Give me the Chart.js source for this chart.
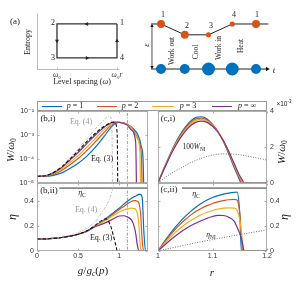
<!DOCTYPE html>
<html>
<head>
<meta charset="utf-8">
<script src="https://cdn.jsdelivr.net/npm/chart.js@4.4.0/dist/chart.umd.min.js"></script>
<style>
  body { margin: 0; background: #fff; }
  #fig { position: relative; width: 299px; height: 282px; overflow: hidden; }
  #fig canvas { position: absolute; left: 0; top: 0; }
  .t { position: absolute; transform: translate(-50%, -50%); white-space: nowrap; line-height: 1;
       font-family: "Liberation Serif", "DejaVu Serif", serif; color: #222; }
  .r { transform: translate(-50%, -50%) rotate(-90deg); }
  .t sub { font-size: 70%; vertical-align: -0.3em; line-height: 0; }
  .t sup { font-size: 70%; vertical-align: 0.5em; line-height: 0; }
  .g { color: #999; }
  #legend { position: absolute; left: 37px; top: 101px; width: 230px; height: 10px; border: 0.8px solid #999;
            box-sizing: border-box; background: #fff; }
  .sw { position: absolute; top: 5px; height: 0; border-top: 1.2px solid; }
</style>
</head>
<body>
<div id="fig">
  <canvas id="a1" width="299" height="282"></canvas>
  <canvas id="a2" width="299" height="282"></canvas>
  <canvas id="bi" width="299" height="282"></canvas>
  <canvas id="ci" width="299" height="282"></canvas>
  <canvas id="bii" width="299" height="282"></canvas>
  <canvas id="cii" width="299" height="282"></canvas>

  <!-- panel (a) text -->
  <div class="t" style="left:15px;top:21px;font-size:9px">(a)</div>
  <div class="t r" style="left:28px;top:42px;font-size:8px">Entropy</div>
  <div class="t" style="left:82px;top:82px;font-size:8px">Level spacing (<i>ω</i>)</div>
  <div class="t" style="left:122px;top:23px;font-size:8px">1</div>
  <div class="t" style="left:53px;top:23px;font-size:8px">2</div>
  <div class="t" style="left:53px;top:58px;font-size:8px">3</div>
  <div class="t" style="left:122px;top:58px;font-size:8px">4</div>
  <div class="t" style="left:163px;top:15px;font-size:8px">1</div>
  <div class="t" style="left:187px;top:26px;font-size:8px">2</div>
  <div class="t" style="left:211px;top:26px;font-size:8px">3</div>
  <div class="t" style="left:234px;top:15px;font-size:8px">4</div>
  <div class="t" style="left:257px;top:15px;font-size:8px">1</div>
  <div class="t r" style="left:146px;top:45px;font-size:9px"><i>ε</i></div>
  <div class="t" style="left:274px;top:70px;font-size:9px"><i>t</i></div>
  <div class="t r" style="left:172px;top:51px;font-size:7.5px">Work out</div>
  <div class="t r" style="left:196px;top:52px;font-size:7.5px">Cool</div>
  <div class="t r" style="left:219px;top:48px;font-size:7.5px">Work in</div>
  <div class="t r" style="left:241px;top:46px;font-size:7.5px">Heat</div>

  <!-- legend -->
  <div id="legend"></div>
  <div class="sw" style="left:42px;top:106px;width:20px;border-color:#0072BD"></div>
  <div class="t" style="left:75px;top:106px;font-size:8px"><i>p</i> = 1</div>
  <div class="sw" style="left:97px;top:106px;width:20px;border-color:#D95319"></div>
  <div class="t" style="left:130px;top:106px;font-size:8px"><i>p</i> = 2</div>
  <div class="sw" style="left:152px;top:106px;width:22px;border-color:#EDB120"></div>
  <div class="t" style="left:188px;top:106px;font-size:8px"><i>p</i> = 3</div>
  <div class="sw" style="left:212px;top:106px;width:20px;border-color:#7E2F8E"></div>
  <div class="t" style="left:247px;top:106px;font-size:8px"><i>p</i> = ∞</div>

  <!-- panel labels and annotations -->
  <div class="t" style="left:48px;top:118px;font-size:9px">(b,i)</div>
  <div class="t" style="left:168px;top:118px;font-size:9px">(c,i)</div>
  <div class="t" style="left:49px;top:190px;font-size:9px">(b,ii)</div>
  <div class="t" style="left:169px;top:189px;font-size:9px">(c,ii)</div>
  <div class="t g" style="left:81px;top:122px;font-size:8px">Eq. (4)</div>
  <div class="t" style="left:102px;top:159px;font-size:8px">Eq. (3)</div>
  <div class="t g" style="left:86px;top:210px;font-size:8px">Eq. (4)</div>
  <div class="t" style="left:101px;top:238px;font-size:8px">Eq. (3)</div>
  <div class="t" style="left:82px;top:193px;font-size:8px"><i>η</i><sub>C</sub></div>
  <div class="t" style="left:196px;top:194px;font-size:8px"><i>η</i><sub>C</sub></div>
  <div class="t" style="left:194px;top:147px;font-size:7.5px">100<i>W</i><sub>NI</sub></div>
  <div class="t" style="left:211px;top:235px;font-size:7.5px"><i>η</i><sub>NI</sub></div>

  <!-- axis titles -->
  <div class="t r" style="left:10px;top:150px;font-size:11px"><i>W</i>/<i>ω</i><sub>0</sub></div>
  <div class="t r" style="left:281px;top:152px;font-size:11px"><i>W</i>/<i>ω</i><sub>0</sub></div>
  <div class="t r" style="left:12px;top:217px;font-size:12px"><i>η</i></div>
  <div class="t r" style="left:284px;top:217px;font-size:12px"><i>η</i></div>
  <div class="t" style="left:93px;top:270px;font-size:11px"><i>g</i>/<i>g</i><sub><i>c</i></sub>(<i>p</i>)</div>
  <div class="t" style="left:212px;top:272px;font-size:11px"><i>r</i></div>
  <div class="t" style="left:284px;top:104px;font-size:6.5px;font-family:'Liberation Sans','DejaVu Sans',sans-serif">×10<sup>-3</sup></div>
</div>

<script>
// ---------- data ----------

// (a) left: Otto cycle 1 -> 2 -> 3 -> 4 -> 1, level spacing in units of w0 (w0 = 1, w0*r = 2)
const cycleOmega = [2, 1, 1, 2, 2];
const cycleEntropy = [2, 2, 1, 1, 2];
const arrowOmega = [1.5, 1, 1.5, 2];
const arrowEntropy = [2, 1.5, 1, 1.5];
const omegaTicks = [1, 2];
const omegaTickLabels = ['ω₀', 'ω₀r'];

// (a) right: two-level scheme over the strokes
const strokeT = [0, 1, 2, 3, 4];
const upperLevel = [1, 0.76, 0.76, 1, 1];
const lowerLevel = [0, 0, 0, 0, 0];
const tAxis = [-0.42, 4.42];
const epsT = -0.38;

// (b,i) W/w0 vs g/gc(p), log scale
const gW = [0, 0.1, 0.2, 0.3, 0.4, 0.5, 0.6, 0.7, 0.8, 0.9, 0.95, 1.0, 1.05, 1.1, 1.15, 1.2, 1.22, 1.25, 1.27, 1.29, 1.31, 1.35];
const wB1 = [1.91e-5, 1.91e-5, 2.09e-5, 2.63e-5, 3.98e-5, 6.61e-5, 1.26e-4, 2.82e-4, 7.41e-4, 2.09e-3, 3.02e-3, 3.39e-3, 3.24e-3, 2.82e-3, 2.09e-3, 1.41e-3, 1.12e-3, 6.3e-4, 3.16e-4, 1e-4, 1e-7, 1e-7];
const wB2 = [1.91e-5, 1.95e-5, 2.29e-5, 3.31e-5, 5.75e-5, 1.05e-4, 2.14e-4, 4.79e-4, 1.12e-3, 2.51e-3, 3.24e-3, 3.39e-3, 3.24e-3, 2.75e-3, 2.0e-3, 1.12e-3, 7.9e-4, 4e-4, 1.26e-4, 1e-7, 1e-7, 1e-7];
const wB3 = [1.91e-5, 2.0e-5, 2.45e-5, 3.8e-5, 7.08e-5, 1.38e-4, 2.95e-4, 6.61e-4, 1.48e-3, 2.82e-3, 3.39e-3, 3.39e-3, 3.16e-3, 2.69e-3, 1.91e-3, 1.0e-3, 7.1e-4, 2.5e-4, 1e-7, 1e-7, 1e-7, 1e-7];
const wBInf = [1.91e-5, 2.0e-5, 2.63e-5, 4.37e-5, 8.91e-5, 1.86e-4, 4.17e-4, 9.33e-4, 1.91e-3, 3.16e-3, 3.47e-3, 3.39e-3, 3.02e-3, 2.51e-3, 1.58e-3, 5e-4, 1e-7, 1e-7, 1e-7, 1e-7, 1e-7, 1e-7];
const gEq3W = [0, 0.1, 0.2, 0.3, 0.4, 0.5, 0.6, 0.7, 0.8, 0.85, 0.9, 0.93, 0.955, 0.97, 0.978, 0.985];
const wEq3 = [1.91e-5, 2.0e-5, 2.75e-5, 4.68e-5, 1e-4, 2.19e-4, 5.01e-4, 1.1e-3, 2.09e-3, 2.69e-3, 3.31e-3, 3.47e-3, 3.0e-3, 1.8e-3, 3e-4, 1e-7];
const gEq4W = [0, 0.1, 0.2, 0.3, 0.4, 0.5, 0.6, 0.7, 0.8, 0.85, 0.88, 0.9, 0.91, 0.915, 0.92];
const wEq4 = [1.91e-5, 2.04e-5, 2.88e-5, 5.01e-5, 1.12e-4, 2.63e-4, 6.61e-4, 1.66e-3, 3.8e-3, 5.62e-3, 6.31e-3, 5.01e-3, 2e-3, 2.5e-4, 1e-7];
const wTicks = [1e-5, 1e-4, 1e-3, 1e-2];
const gTicks = [0, 0.5, 1];
const gCut = 1.1;

// (b,ii) efficiency vs g/gc(p)
const gE = [0, 0.1, 0.2, 0.3, 0.4, 0.5, 0.6, 0.7, 0.8, 0.9, 1.0, 1.05, 1.1, 1.15, 1.18, 1.2, 1.22, 1.24, 1.26, 1.28, 1.3, 1.32, 1.35];
const eB1 = [0.095, 0.096, 0.1, 0.107, 0.118, 0.133, 0.155, 0.195, 0.24, 0.29, 0.34, 0.368, 0.395, 0.418, 0.43, 0.437, 0.444, 0.449, 0.45, 0.42, 0.15, 0, 0];
const eB2 = [0.095, 0.096, 0.1, 0.107, 0.118, 0.133, 0.155, 0.195, 0.235, 0.28, 0.33, 0.352, 0.375, 0.395, 0.4, 0.4, 0.395, 0.38, 0.3, 0.08, 0, 0, 0];
const eB3 = [0.095, 0.096, 0.1, 0.107, 0.118, 0.133, 0.155, 0.195, 0.23, 0.27, 0.31, 0.325, 0.335, 0.34, 0.337, 0.33, 0.3, 0.2, 0.02, 0, 0, 0, 0];
const eBInf = [0.095, 0.096, 0.1, 0.107, 0.118, 0.133, 0.155, 0.19, 0.215, 0.245, 0.278, 0.28, 0.27, 0.245, 0.2, 0.14, 0.05, 0, 0, 0, 0, 0, 0];
const gEq3E = [0, 0.1, 0.2, 0.3, 0.4, 0.5, 0.6, 0.7, 0.8, 0.84, 0.87, 0.9, 0.93, 0.96, 0.975];
const eEq3 = [0.095, 0.096, 0.1, 0.107, 0.118, 0.133, 0.158, 0.2, 0.248, 0.255, 0.235, 0.19, 0.12, 0.04, 0];
const gEq4E = [0, 0.1, 0.2, 0.3, 0.4, 0.5, 0.6, 0.7, 0.75, 0.8, 0.85, 0.88, 0.91, 0.93, 0.95];
const eEq4 = [0.095, 0.097, 0.102, 0.11, 0.124, 0.145, 0.178, 0.23, 0.268, 0.315, 0.37, 0.41, 0.47, 0.52, 0.58];
const etaC = 0.5;
const etaCSpanB = [0.27, 1.35];
const etaTicks = [0, 0.2, 0.4];

// (c,i) W/w0 (units of 1e-3) vs r
const rW = [1, 1.01, 1.02, 1.03, 1.04, 1.05, 1.06, 1.07, 1.08, 1.09, 1.10, 1.11, 1.12, 1.13, 1.14, 1.15, 1.152, 1.154, 1.156, 1.158, 1.16, 1.2];
const wC1 = [0, 0.75, 1.45, 2.1, 2.65, 3.1, 3.45, 3.65, 3.68, 3.55, 3.25, 2.85, 2.3, 1.6, 0.85, 0.15, 0, 0, 0, 0, 0, 0];
const wC2 = [0, 0.73, 1.42, 2.05, 2.58, 3.02, 3.36, 3.56, 3.6, 3.5, 3.24, 2.86, 2.34, 1.67, 0.93, 0.25, 0.12, 0, 0, 0, 0, 0];
const wC3 = [0, 0.71, 1.39, 2.0, 2.52, 2.95, 3.28, 3.48, 3.53, 3.44, 3.2, 2.84, 2.35, 1.72, 1.0, 0.33, 0.21, 0.1, 0, 0, 0, 0];
const wCInf = [0, 0.69, 1.35, 1.94, 2.45, 2.87, 3.19, 3.38, 3.44, 3.37, 3.15, 2.82, 2.35, 1.75, 1.07, 0.4, 0.3, 0.2, 0.1, 0, 0, 0];
const rNI = [1, 1.02, 1.04, 1.06, 1.08, 1.1, 1.12, 1.14, 1.16, 1.18, 1.2];
const wNI100 = [0, 0.45, 0.8, 1.12, 1.38, 1.55, 1.62, 1.6, 1.52, 1.4, 1.27];
const wCTicks = [0, 2, 4];
const rTicks = [1, 1.1, 1.2];

// (c,ii) efficiency vs r
const rE = [1, 1.01, 1.02, 1.03, 1.04, 1.05, 1.06, 1.07, 1.08, 1.09, 1.10, 1.11, 1.12, 1.13, 1.14, 1.145, 1.15, 1.153, 1.156, 1.158, 1.16, 1.2];
const eC1 = [0, 0.065, 0.125, 0.18, 0.23, 0.275, 0.315, 0.35, 0.38, 0.405, 0.425, 0.44, 0.452, 0.46, 0.466, 0.468, 0.3, 0, 0, 0, 0, 0];
const eC2 = [0, 0.06, 0.115, 0.165, 0.21, 0.25, 0.285, 0.315, 0.34, 0.36, 0.377, 0.39, 0.4, 0.407, 0.41, 0.405, 0.3, 0.12, 0, 0, 0, 0];
const eC3 = [0, 0.05, 0.097, 0.14, 0.178, 0.212, 0.242, 0.267, 0.29, 0.308, 0.322, 0.333, 0.34, 0.343, 0.34, 0.325, 0.25, 0.15, 0.03, 0, 0, 0];
const eCInf = [0, 0.04, 0.078, 0.113, 0.145, 0.175, 0.2, 0.222, 0.242, 0.26, 0.274, 0.283, 0.282, 0.268, 0.235, 0.19, 0.14, 0.1, 0.04, 0, 0, 0];
const etaNI = [0, 0.02, 0.038, 0.057, 0.074, 0.091, 0.107, 0.123, 0.138, 0.153, 0.167];
const etaCSpanC = [1.044, 1.2];

// ---------- styling ----------
const W = 299, H = 282;
const col = { p1: '#0072BD', p2: '#D95319', p3: '#EDB120', pInf: '#7E2F8E' };
const tickFont = { family: "'Liberation Sans', 'DejaVu Sans', sans-serif", size: 7 };
const sup = { '-': '⁻', '0': '⁰', '1': '¹', '2': '²', '3': '³', '4': '⁴', '5': '⁵', '6': '⁶' };
const plainNum = v => String(Math.round(v * 100) / 100);

function pts(xs, ys) { return xs.map((x, i) => ({ x: x, y: ys[i] })); }

function curve(xs, ys, color, extra) {
  return Object.assign({
    data: pts(xs, ys), borderColor: color, borderWidth: 1.2, pointRadius: 0,
    fill: false, cubicInterpolationMode: 'monotone'
  }, extra || {});
}

// box + inward tick marks, like the original axes
const frame = {
  id: 'frame',
  afterDraw(chart, args, o) {
    if (!o.show) return;
    const { ctx, chartArea: a } = chart;
    const L = Math.round(a.left) + 0.5, R = Math.round(a.right) - 0.5;
    const T = Math.round(a.top) + 0.5, B = Math.round(a.bottom) - 0.5;
    ctx.save();
    ctx.strokeStyle = o.color || '#999';
    ctx.lineWidth = 0.8;
    ctx.beginPath();
    if (o.box) ctx.rect(L, T, R - L, B - T);
    else { ctx.moveTo(L, T); ctx.lineTo(L, B); ctx.lineTo(R, B); }
    if (o.tick) {
      Object.values(chart.scales).forEach(s => {
        if (!s.options.display) return;
        s.ticks.forEach(t => {
          const p = Math.round(s.getPixelForValue(t.value)) + 0.5;
          if (s.axis === 'x') {
            ctx.moveTo(p, B); ctx.lineTo(p, B - o.tick);
            if (o.box) { ctx.moveTo(p, T); ctx.lineTo(p, T + o.tick); }
          } else {
            ctx.moveTo(L, p); ctx.lineTo(L + o.tick, p);
            ctx.moveTo(R, p); ctx.lineTo(R - o.tick, p);
          }
        });
      });
    }
    ctx.stroke();
    ctx.restore();
  }
};

// area = [left, top, right, bottom] of the plot box in page pixels
function makeChart(id, area, sizes, datasets, scales, frameOpts) {
  return new Chart(document.getElementById(id), {
    type: 'line',
    data: { datasets: datasets },
    options: {
      responsive: false,
      animation: false,
      events: [],
      layout: { padding: {
        left: area[0] - (sizes.yl || 0), top: area[1],
        right: W - area[2] - (sizes.yr || 0), bottom: H - area[3] - (sizes.xb || 0)
      } },
      plugins: { legend: { display: false }, tooltip: { enabled: false }, frame: frameOpts },
      scales: scales
    },
    plugins: [frame]
  });
}

function setTicks(list) { return s => { s.ticks = list.map(v => ({ value: v })); }; }
function hiddenAxis(min, max, type) {
  return { type: type || 'linear', display: false, min: min, max: max };
}
function xAxis(min, max, ticks, show, h, font, cb) {
  return {
    type: 'linear', min: min, max: max,
    ticks: { display: show, font: font || tickFont, color: '#333', padding: 1, maxRotation: 0, autoSkip: false,
             callback: cb || plainNum },
    grid: { display: false, drawTicks: false }, border: { display: false },
    afterBuildTicks: setTicks(ticks),
    afterFit: s => { s.height = h; }
  };
}
function yAxis(type, min, max, ticks, pos, w, cb) {
  return {
    type: type, position: pos, min: min, max: max,
    ticks: { font: tickFont, color: '#333', padding: 3, autoSkip: false, callback: cb || plainNum },
    grid: { display: false, drawTicks: false }, border: { display: false },
    afterBuildTicks: setTicks(ticks),
    afterFit: s => { s.width = w; }
  };
}

const eq3Style = { borderColor: '#111', borderWidth: 1.1, borderDash: [3.5, 2] };
const eq4Style = { borderColor: '#b5b5b5', borderWidth: 0.9, borderDash: [3, 1.5, 1, 1.5] };
const cutStyle = { borderColor: '#888', borderWidth: 0.8, borderDash: [3, 1.5, 1, 1.5], cubicInterpolationMode: 'default', tension: 0 };
const dotStyle = { borderColor: '#555', borderWidth: 0.9, borderDash: [0.9, 1.6] };
const etaCStyle = { borderColor: '#8a8a8a', borderWidth: 1.8, cubicInterpolationMode: 'default', tension: 0 };

// ---------- (a) left ----------
makeChart('a1', [37, 13, 120, 70], { xb: 14 }, [
  {
    data: pts(arrowOmega, arrowEntropy), showLine: false, pointStyle: 'triangle',
    pointRadius: 2.3, pointRotation: [270, 180, 90, 0],
    pointBackgroundColor: '#222', pointBorderWidth: 0
  },
  { data: pts(cycleOmega, cycleEntropy), borderColor: '#333', borderWidth: 1.3, pointRadius: 0, tension: 0, clip: false }
], {
  x: xAxis(0.667, 2.05, omegaTicks, true, 14,
    { family: "'Liberation Serif', 'DejaVu Serif', serif", size: 7.5, style: 'italic' },
    (v, i) => omegaTickLabels[i]),
  y: hiddenAxis(0.647, 2.32)
}, { show: true, box: false, tick: 2, color: '#aaa' });

// ---------- (a) right ----------
// page x = 161 + 23.75 * t, page y = 69 - 45 * level, plot box [140, 5, 285, 80]
makeChart('a2', [140, 5, 285, 80], {}, [
  {
    data: pts(strokeT, upperLevel), showLine: false, pointRadius: [4, 4, 2.6, 2.6, 4],
    pointBackgroundColor: '#D95319', pointBorderWidth: 0, clip: false
  },
  {
    data: pts(strokeT, lowerLevel), showLine: false, pointRadius: [5, 5, 6.5, 6.5, 5],
    pointBackgroundColor: '#0072BD', pointBorderWidth: 0, clip: false
  },
  {
    data: [{ x: tAxis[1] + 0.05, y: 0 }, { x: epsT, y: 0.955 }, { x: epsT, y: 0.045 }],
    showLine: false, pointStyle: 'triangle', pointRadius: [2.6, 2, 2], pointRotation: [90, 0, 180],
    pointBackgroundColor: '#111', pointBorderWidth: 0, clip: false
  },
  {
    data: [{ x: tAxis[0], y: upperLevel[0] }].concat(pts(strokeT, upperLevel), [{ x: tAxis[1] + 0.1, y: upperLevel[4] }]),
    borderColor: '#222', borderWidth: 1, pointRadius: 0, tension: 0
  },
  {
    data: [{ x: tAxis[0], y: 0 }, { x: tAxis[1], y: 0 }],
    borderColor: '#222', borderWidth: 1, pointRadius: 0, tension: 0
  },
  {
    data: [{ x: epsT, y: 0.03 }, { x: epsT, y: 0.97 }],
    borderColor: '#222', borderWidth: 0.8, pointRadius: 0, tension: 0
  }
], {
  x: hiddenAxis(-0.884, 5.221),
  y: hiddenAxis(-0.2444, 1.4222)
}, { show: false });

// ---------- (b,i) ----------
makeChart('bi', [37, 111, 148, 183], { yl: 32 }, [
  curve(gEq3W, wEq3, '#111', eq3Style),
  curve(gEq4W, wEq4, '#b5b5b5', eq4Style),
  curve(gW, wBInf, col.pInf),
  curve(gW, wB3, col.p3),
  curve(gW, wB2, col.p2),
  curve(gW, wB1, col.p1),
  curve([gCut, gCut], [1e-6, 1e-1], '#888', cutStyle)
], {
  x: xAxis(0, 1.35, gTicks, false, 0),
  y: yAxis('logarithmic', 1e-5, 1e-2, wTicks, 'left', 32, v => {
    const e = String(Math.round(Math.log10(v)));
    return '10' + e.split('').map(c => sup[c]).join('');
  })
}, { show: true, box: true, tick: 2 });

// ---------- (c,i) ----------
makeChart('ci', [158, 111, 267, 183], { yr: 12 }, [
  curve(rNI, wNI100, '#555', dotStyle),
  curve(rW, wCInf, col.pInf),
  curve(rW, wC3, col.p3),
  curve(rW, wC2, col.p2),
  curve(rW, wC1, col.p1)
], {
  x: xAxis(1, 1.2, rTicks, false, 0),
  y: yAxis('linear', 0, 4, wCTicks, 'right', 12)
}, { show: true, box: true, tick: 2 });

// ---------- (b,ii) ----------
makeChart('bii', [37, 183, 148, 251], { yl: 32, xb: 14 }, [
  curve(gEq3E, eEq3, '#111', eq3Style),
  curve(gEq4E, eEq4, '#b5b5b5', eq4Style),
  curve(gE, eBInf, col.pInf),
  curve(gE, eB3, col.p3),
  curve(gE, eB2, col.p2),
  curve(gE, eB1, col.p1),
  curve(etaCSpanB, [etaC, etaC], '#8a8a8a', etaCStyle),
  curve([gCut, gCut], [-0.1, 1], '#888', cutStyle)
], {
  x: xAxis(0, 1.35, gTicks, true, 14),
  y: yAxis('linear', 0, 0.54, etaTicks, 'left', 32)
}, { show: true, box: true, tick: 2 });

// ---------- (c,ii) ----------
makeChart('cii', [158, 183, 267, 251], { yr: 12, xb: 14 }, [
  curve(rNI, etaNI, '#555', dotStyle),
  curve(rE, eCInf, col.pInf),
  curve(rE, eC3, col.p3),
  curve(rE, eC2, col.p2),
  curve(rE, eC1, col.p1),
  curve(etaCSpanC, [etaC, etaC], '#8a8a8a', etaCStyle)
], {
  x: xAxis(1, 1.2, rTicks, true, 14),
  y: yAxis('linear', 0, 0.54, etaTicks, 'right', 12)
}, { show: true, box: true, tick: 2 });
</script>
</body>
</html>
